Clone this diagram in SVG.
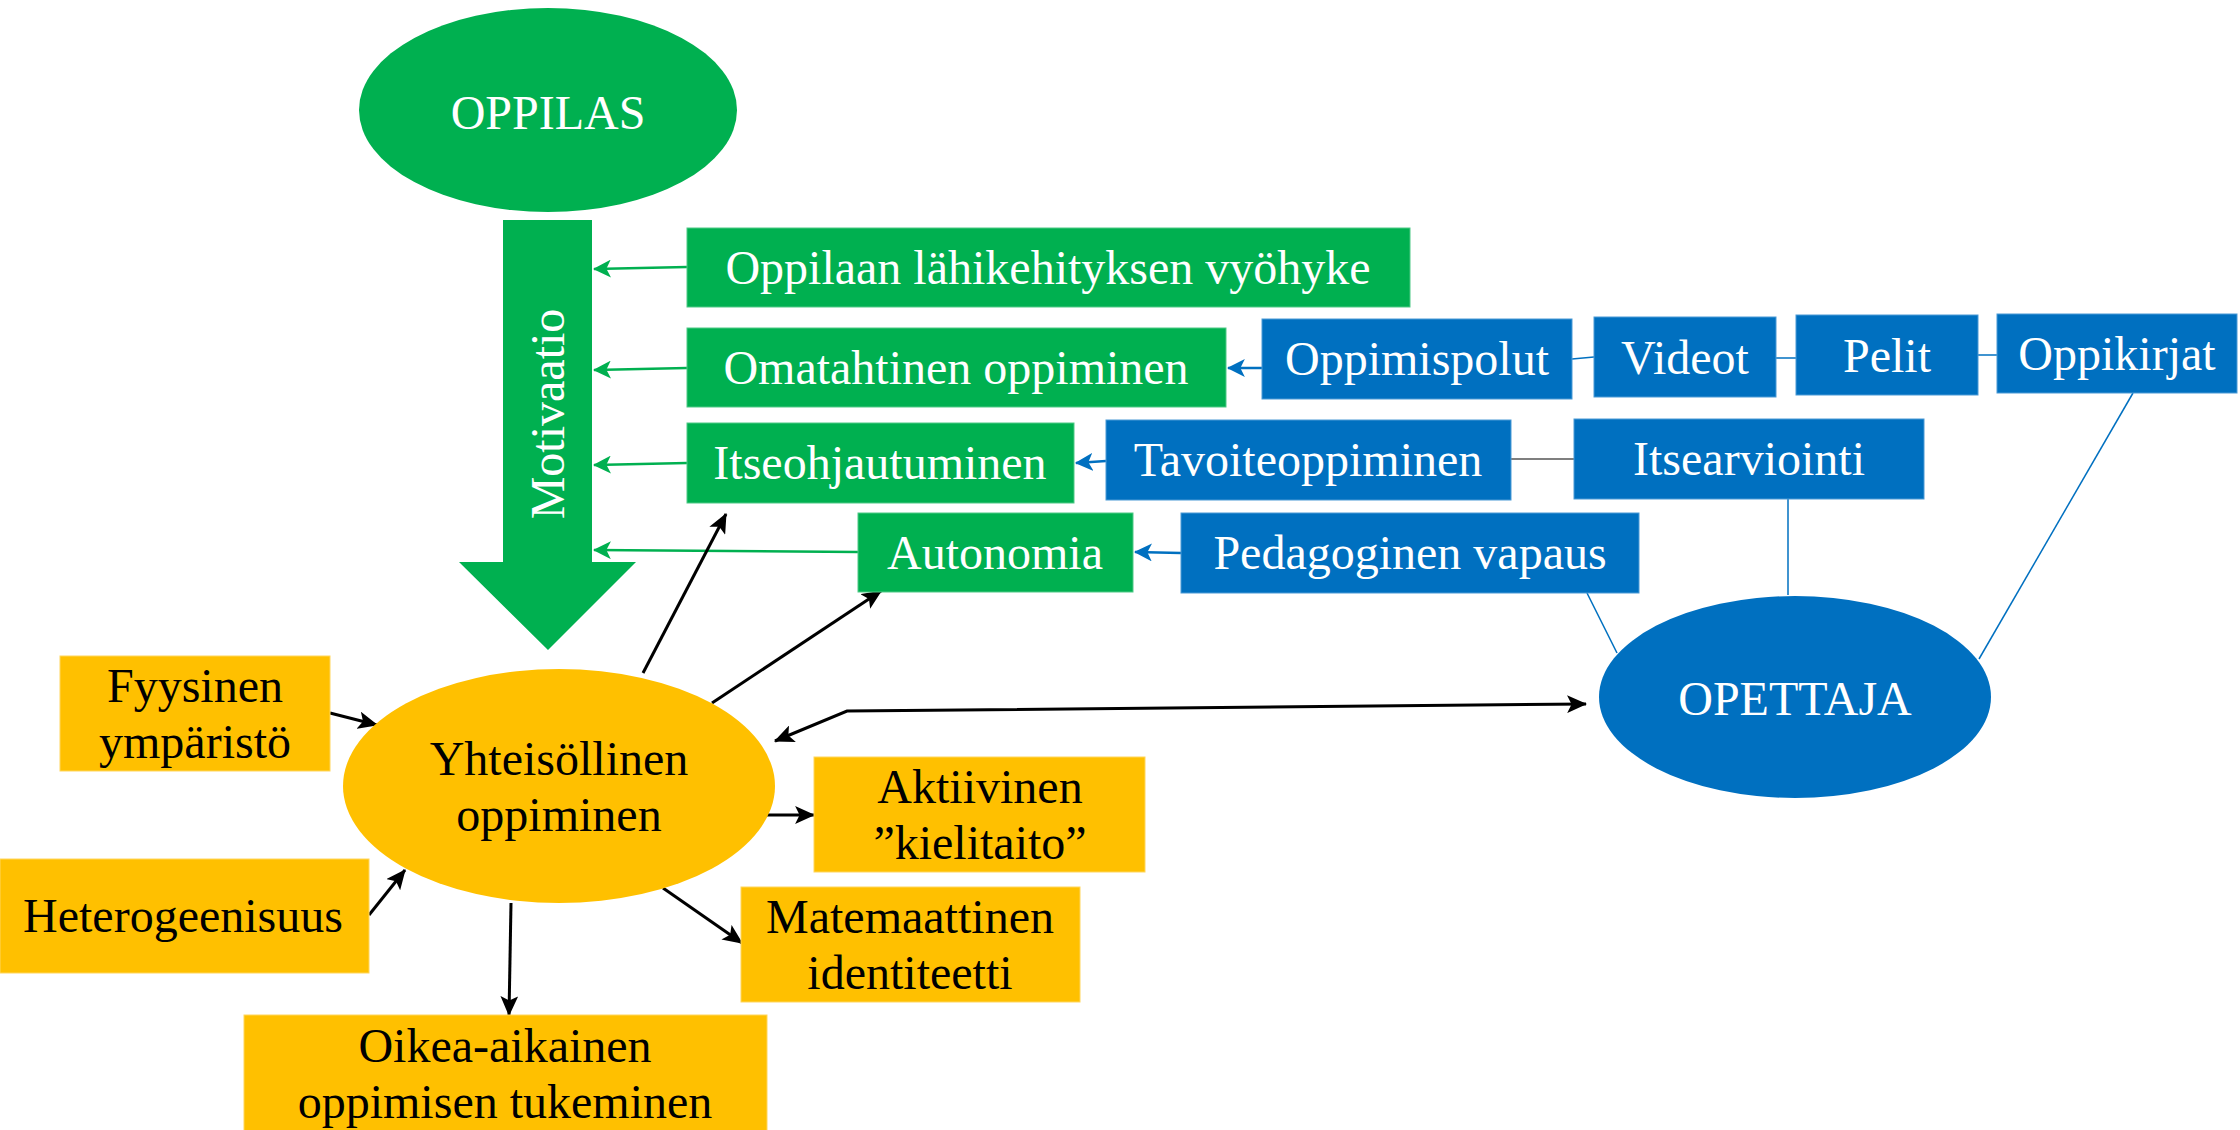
<svg xmlns="http://www.w3.org/2000/svg" width="2240" height="1130" viewBox="0 0 2240 1130">
  <style>
    text { font-family: "Liberation Serif", "Times New Roman", serif; font-size: 48px; text-anchor: middle; }
    .g { fill: #00B050; stroke: #4FC986; stroke-width: 1; }
    .b { fill: #0070C0; stroke: #4A9AD6; stroke-width: 1; }
    .o { fill: #FFC000; stroke: #FFD65C; stroke-width: 1; }
    .wt { fill: #FFFFFF; }
    .bt { fill: #000000; }
    .cg { fill: none; stroke: #00B050; stroke-width: 2.5; }
    .cb { fill: none; stroke: #0070C0; stroke-width: 2.5; }
    .lb { fill: none; stroke: #0070C0; stroke-width: 1.5; }
    .lg { fill: none; stroke: #7F7F7F; stroke-width: 2; }
    .ck { fill: none; stroke: #000000; stroke-width: 3; }
  </style>
  <defs>
    <marker id="ahG" markerUnits="userSpaceOnUse" markerWidth="18" markerHeight="18" viewBox="0 0 16 16" refX="15" refY="8" orient="auto">
      <path d="M0,0 L16,8 L0,16 L4,8 Z" fill="#00B050"/>
    </marker>
    <marker id="ahB" markerUnits="userSpaceOnUse" markerWidth="18" markerHeight="18" viewBox="0 0 16 16" refX="15" refY="8" orient="auto">
      <path d="M0,0 L16,8 L0,16 L4,8 Z" fill="#0070C0"/>
    </marker>
    <marker id="ahK" markerUnits="userSpaceOnUse" markerWidth="20" markerHeight="18" viewBox="0 0 18 16" refX="17" refY="8" orient="auto-start-reverse">
      <path d="M0,0 L18,8 L0,16 L4,8 Z" fill="#000000"/>
    </marker>
  </defs>

  <!-- connectors -->
  <g id="connectors">
    <!-- green: into the motivation arrow -->
    <path class="cg" d="M687,267 L594,269" marker-end="url(#ahG)"/>
    <path class="cg" d="M687,368 L594,370" marker-end="url(#ahG)"/>
    <path class="cg" d="M687,463 L594,465" marker-end="url(#ahG)"/>
    <path class="cg" d="M858,552 L594,550" marker-end="url(#ahG)"/>
    <!-- blue arrows into the green boxes -->
    <path class="cb" d="M1262,368 L1228,368" marker-end="url(#ahB)"/>
    <path class="cb" d="M1106,461 L1076,463" marker-end="url(#ahB)"/>
    <path class="cb" d="M1181,553 L1135,552" marker-end="url(#ahB)"/>
    <!-- plain links between the teacher's tools -->
    <path class="lb" d="M1572,359 L1594,357"/>
    <path class="lb" d="M1776,358 L1796,358"/>
    <path class="lb" d="M1978,355 L1997,355"/>
    <path class="lg" d="M1511,459 L1574,459"/>
    <path class="lb" d="M1788,499 L1788,595"/>
    <path class="lb" d="M1587,593 L1617,653"/>
    <path class="lb" d="M2133,393 L1979,659"/>
    <!-- black arrows around collaborative learning -->
    <path class="ck" d="M643,673 L726,514" marker-end="url(#ahK)"/>
    <path class="ck" d="M712,703 L881,591" marker-end="url(#ahK)"/>
    <path class="ck" d="M330,713 L377,725" marker-end="url(#ahK)"/>
    <path class="ck" d="M369,915 L405,870" marker-end="url(#ahK)"/>
    <path class="ck" d="M511,903 L509,1015" marker-end="url(#ahK)"/>
    <path class="ck" d="M663,888 L742,943" marker-end="url(#ahK)"/>
    <path class="ck" d="M766,815 L814,815" marker-end="url(#ahK)"/>
    <path class="ck" d="M775,741 L847,711 L1586,704" marker-start="url(#ahK)" marker-end="url(#ahK)"/>
  </g>

  <!-- learner -->
  <g id="oppilas">
    <ellipse cx="548" cy="110" rx="189" ry="102" fill="#00B050"/>
    <text class="wt" x="548" y="129">OPPILAS</text>
  </g>

  <!-- big motivation arrow -->
  <g id="motivaatio">
    <path d="M503,220 L592,220 L592,562 L636,562 L548,650 L459,562 L503,562 Z" fill="#00B050"/>
    <text class="wt" transform="translate(564,414) rotate(-90)" x="0" y="0">Motivaatio</text>
  </g>

  <!-- green boxes -->
  <g id="lahikehitys">
    <rect class="g" x="687" y="228" width="723" height="79"/>
    <text class="wt" x="1048" y="284">Oppilaan lähikehityksen vyöhyke</text>
  </g>
  <g id="omatahtinen">
    <rect class="g" x="687" y="328" width="539" height="79"/>
    <text class="wt" x="956" y="384">Omatahtinen oppiminen</text>
  </g>
  <g id="itseohjautuminen">
    <rect class="g" x="687" y="423" width="387" height="80"/>
    <text class="wt" x="880" y="479">Itseohjautuminen</text>
  </g>
  <g id="autonomia">
    <rect class="g" x="858" y="513" width="275" height="79"/>
    <text class="wt" x="995" y="569">Autonomia</text>
  </g>

  <!-- blue boxes -->
  <g id="oppimispolut">
    <rect class="b" x="1262" y="319" width="310" height="80"/>
    <text class="wt" x="1417" y="375">Oppimispolut</text>
  </g>
  <g id="videot">
    <rect class="b" x="1594" y="317" width="182" height="80"/>
    <text class="wt" x="1685" y="374">Videot</text>
  </g>
  <g id="pelit">
    <rect class="b" x="1796" y="315" width="182" height="80"/>
    <text class="wt" x="1887" y="372">Pelit</text>
  </g>
  <g id="oppikirjat">
    <rect class="b" x="1997" y="314" width="240" height="79"/>
    <text class="wt" x="2117" y="370">Oppikirjat</text>
  </g>
  <g id="tavoiteoppiminen">
    <rect class="b" x="1106" y="420" width="405" height="80"/>
    <text class="wt" x="1308" y="476">Tavoiteoppiminen</text>
  </g>
  <g id="itsearviointi">
    <rect class="b" x="1574" y="419" width="350" height="80"/>
    <text class="wt" x="1749" y="475">Itsearviointi</text>
  </g>
  <g id="pedagoginen">
    <rect class="b" x="1181" y="513" width="458" height="80"/>
    <text class="wt" x="1410" y="569">Pedagoginen vapaus</text>
  </g>

  <!-- teacher -->
  <g id="opettaja">
    <ellipse cx="1795" cy="697" rx="196" ry="101" fill="#0070C0"/>
    <text class="wt" x="1795" y="715">OPETTAJA</text>
  </g>

  <!-- collaborative learning -->
  <g id="yhteisollinen">
    <ellipse cx="559" cy="786" rx="216" ry="117" fill="#FFC000"/>
    <text class="bt" x="559" y="775">Yhteisöllinen</text>
    <text class="bt" x="559" y="831">oppiminen</text>
  </g>

  <!-- orange boxes -->
  <g id="fyysinen">
    <rect class="o" x="60" y="656" width="270" height="115"/>
    <text class="bt" x="195" y="702">Fyysinen</text>
    <text class="bt" x="195" y="758">ympäristö</text>
  </g>
  <g id="heterogeenisuus">
    <rect class="o" x="0" y="859" width="369" height="114"/>
    <text class="bt" x="183" y="932">Heterogeenisuus</text>
  </g>
  <g id="aktiivinen">
    <rect class="o" x="814" y="757" width="331" height="115"/>
    <text class="bt" x="980" y="803">Aktiivinen</text>
    <text class="bt" x="980" y="859">”kielitaito”</text>
  </g>
  <g id="matemaattinen">
    <rect class="o" x="741" y="887" width="339" height="115"/>
    <text class="bt" x="910" y="933">Matemaattinen</text>
    <text class="bt" x="910" y="989">identiteetti</text>
  </g>
  <g id="oikea-aikainen">
    <rect class="o" x="244" y="1015" width="523" height="116"/>
    <text class="bt" x="505" y="1062">Oikea-aikainen</text>
    <text class="bt" x="505" y="1118">oppimisen tukeminen</text>
  </g>
</svg>
